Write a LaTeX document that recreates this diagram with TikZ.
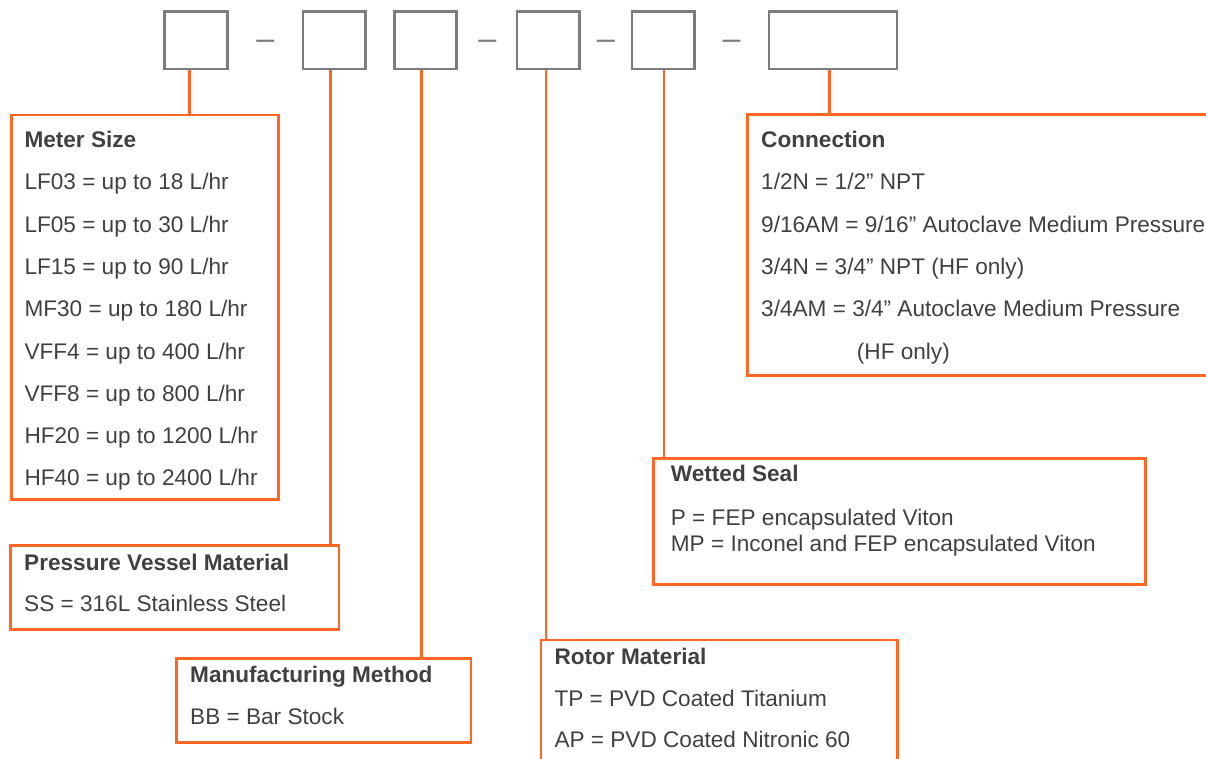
\documentclass[tikz,border=0pt]{standalone}
\usepackage{fontspec}
\setmainfont{Liberation Sans}
\definecolor{codegrey}{RGB}{124,124,128}
\definecolor{keyorange}{RGB}{255,104,36}
\definecolor{inkgrey}{RGB}{64,64,64}
\begin{document}
\begin{tikzpicture}
[x=1pt, y=-1pt,
 slot/.style={draw=codegrey, line width=2.7pt, minimum width=62.7pt, minimum height=57.7pt, inner sep=0pt},
 key/.style={draw=keyorange, line width=2.7pt, anchor=north west, inner sep=0pt},
 link/.style={draw=keyorange, line width=2.7pt},
 sep/.style={anchor=base, inner sep=0pt, text=codegrey, font=\fontsize{32.4}{36}\selectfont},
 item/.style={anchor=base west, inner sep=0pt, text=inkgrey, font=\fontsize{22.6}{27}\selectfont},
 head/.style={item, font=\fontsize{22.6}{27}\selectfont\bfseries}]
\useasboundingbox (0,0) rectangle (1206,758);

% code boxes
\node[slot] (sizecode) at (196,40.2) {};
\node[sep] (d1) at (265.3,49) {–};
\node[slot] (vesselcode) at (334.2,40.2) {};
\node[slot, minimum width=62pt] (methodcode) at (425.3,40.2) {};
\node[sep] (d2) at (487.3,49) {–};
\node[slot] (rotorcode) at (548.3,40.2) {};
\node[sep] (d3) at (605.8,49) {–};
\node[slot] (sealcode) at (663.2,40.2) {};
\node[sep] (d4) at (731.7,49) {–};
\node[slot, minimum width=128pt] (conncode) at (833,40.2) {};

% key boxes
\node[key, minimum width=267pt, minimum height=384.5pt] (size) at (10,113.6) {};
\node[key, minimum width=328.4pt, minimum height=84pt] (vessel) at (9.3,544) {};
\node[key, minimum width=294.7pt, minimum height=84.3pt] (method) at (175,657) {};
\node[key, minimum width=356.3pt, minimum height=160pt] (rotor) at (539.7,638.6) {};
\node[key, minimum width=492.3pt, minimum height=126pt] (seal) at (652,457) {};
\node[key, minimum width=520pt, minimum height=261.3pt] (conn) at (746.3,113) {};

\draw[link] ([xshift=-6.7pt]sizecode.south) -- ([xshift=-6.7pt]sizecode.south |- size.north);
\draw[link] ([xshift=-3.5pt]vesselcode.south) -- ([xshift=-3.5pt]vesselcode.south |- vessel.north);
\draw[link] ([xshift=-3.8pt]methodcode.south) -- ([xshift=-3.8pt]methodcode.south |- method.north);
\draw[link] ([xshift=-2.3pt]rotorcode.south) -- ([xshift=-2.3pt]rotorcode.south |- rotor.north);
\draw[link] ([xshift=0.8pt]sealcode.south) -- ([xshift=0.8pt]sealcode.south |- seal.north);
\draw[link] ([xshift=-3.7pt]conncode.south) -- ([xshift=-3.7pt]conncode.south |- conn.north);

% meter size
\node[head] (size-h) at (24.3,147) {Meter Size};
\node[item] (size-1) at (24.3,189.8) {LF03 = up to 18 L/hr};
\node[item] (size-2) at (24.3,232.1) {LF05 = up to 30 L/hr};
\node[item] (size-3) at (24.3,274.4) {LF15 = up to 90 L/hr};
\node[item] (size-4) at (24.3,316.7) {MF30 = up to 180 L/hr};
\node[item] (size-5) at (24.3,359) {VFF4 = up to 400 L/hr};
\node[item] (size-6) at (24.3,401.3) {VFF8 = up to 800 L/hr};
\node[item] (size-7) at (24.3,443.6) {HF20 = up to 1200 L/hr};
\node[item] (size-8) at (24.3,485.9) {HF40 = up to 2400 L/hr};

% pressure vessel
\node[head] (vessel-h) at (24,570) {Pressure Vessel Material};
\node[item] (vessel-1) at (24,611.7) {SS = 316L Stainless Steel};

% manufacturing
\node[head] (method-h) at (190,682.7) {Manufacturing Method};
\node[item] (method-1) at (190,724.3) {BB = Bar Stock};

% rotor
\node[head] (rotor-h) at (554.3,664.3) {Rotor Material};
\node[item] (rotor-1) at (554.3,706) {TP = PVD Coated Titanium};
\node[item] (rotor-2) at (554.3,747.7) {AP = PVD Coated Nitronic 60};

% wetted seal
\node[head] (seal-h) at (670.7,481.7) {Wetted Seal};
\node[item] (seal-1) at (670.7,525) {P = FEP encapsulated Viton};
\node[item] (seal-2) at (670.7,551) {MP = Inconel and FEP encapsulated Viton};

% connection
\node[head] (conn-h) at (761,147.5) {Connection};
\node[item] (conn-1) at (761,189.8) {1/2N = 1/2” NPT};
\node[item] (conn-2) at (761,232.1) {9/16AM = 9/16” Autoclave Medium Pressure};
\node[item] (conn-3) at (761,274.4) {3/4N = 3/4” NPT (HF only)};
\node[item] (conn-4) at (761,316.7) {3/4AM = 3/4” Autoclave Medium Pressure};
\node[item] (conn-5) at (856.7,359) {(HF only)};
\end{tikzpicture}
\end{document}
